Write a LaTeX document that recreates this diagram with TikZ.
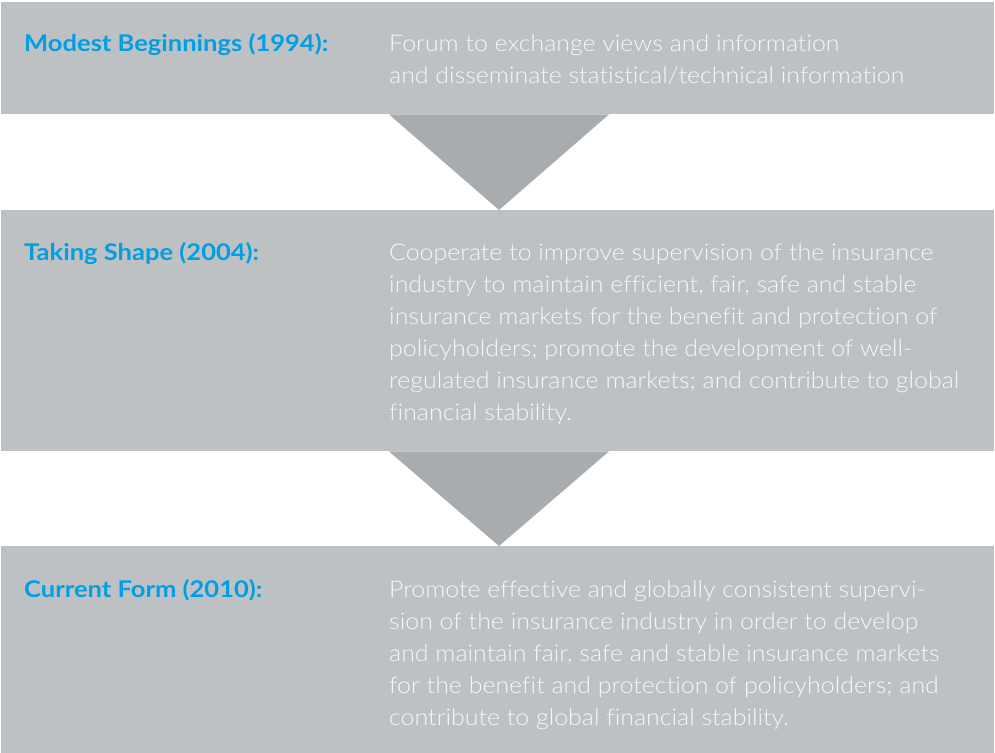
\documentclass[tikz,border=0pt]{standalone}
\usepackage{fontspec}
\setmainfont{Lato}[Ligatures={NoCommon}]
\newfontfamily\bodyfont{Lato Light}[FakeStretch=1.084, Ligatures={NoCommon}]
\newfontfamily\headfont{Lato Bold}[FakeStretch=1.11, Ligatures={NoCommon}]
\usetikzlibrary{calc}
\definecolor{panelgray}{HTML}{BEC1C4}
\definecolor{arrowgray}{HTML}{A9ACAF}
\definecolor{headblue}{HTML}{009FE3}
\definecolor{bodywhite}{HTML}{F7F7F7}
\tikzset{
  panel/.style={fill=panelgray, draw=none, anchor=north west, inner sep=0pt,
    minimum width=993pt},
  pointer/.style={fill=arrowgray, draw=none},
  heading/.style={anchor=base west, inner sep=0pt, text=headblue,
    font=\headfont\fontsize{23}{32}\selectfont},
  bodytext/.style={anchor=base west, inner sep=0pt, text=bodywhite,
    font=\bodyfont\fontsize{23}{32}\selectfont},
}
\newcommand{\bodylines}[1]{\parbox[t]{600pt}{\raggedright #1}}
\begin{document}
\begin{tikzpicture}[x=1pt,y=1pt]
  \useasboundingbox (0,0) rectangle (995,-752);
  \fill[white] (0,0) rectangle (995,-752);

  % three stacked panels
  \node[panel, minimum height=112pt] (box1) at (1,-2) {};
  \node[panel, minimum height=241pt] (box2) at (1,-210) {};
  \node[panel, minimum height=208pt] (box3) at (1,-546) {};

  % downward pointers between panels
  \fill[pointer] ($(box1.south west)+(388,0)$) -- ($(box1.south west)+(608,0)$)
    -- ($(box2.north west)+(498,0)$) -- cycle;
  \fill[pointer] ($(box2.south west)+(388,0)$) -- ($(box2.south west)+(608,0)$)
    -- ($(box3.north west)+(498,0)$) -- cycle;

  % headings
  \node[heading] (h1) at (24,-52) {Modest Beginnings (1994):};
  \node[heading] (h2) at (24,-260) {Taking Shape (2004):};
  \node[heading] (h3) at (24,-597) {Current Form (2010):};

  % descriptions
  \node[bodytext] (t1) at (389,-52) {\bodylines{Forum to exchange views and information\\
    and disseminate statistical/technical information}};
  \node[bodytext] (t2) at (389,-260) {\bodylines{Cooperate to improve supervision of the insurance\\
    industry to maintain efficient, fair, safe and stable\\
    insurance markets for the benefit and protection of\\
    policyholders; promote the development of well-\\
    regulated insurance markets; and contribute to global\\
    financial stability.}};
  \node[bodytext] (t3) at (389,-597) {\bodylines{Promote effective and globally consistent supervi-\\
    sion of the insurance industry in order to develop\\
    and maintain fair, safe and stable insurance markets\\
    for the benefit and protection of policyholders; and\\
    contribute to global financial stability.}};
\end{tikzpicture}
\end{document}
